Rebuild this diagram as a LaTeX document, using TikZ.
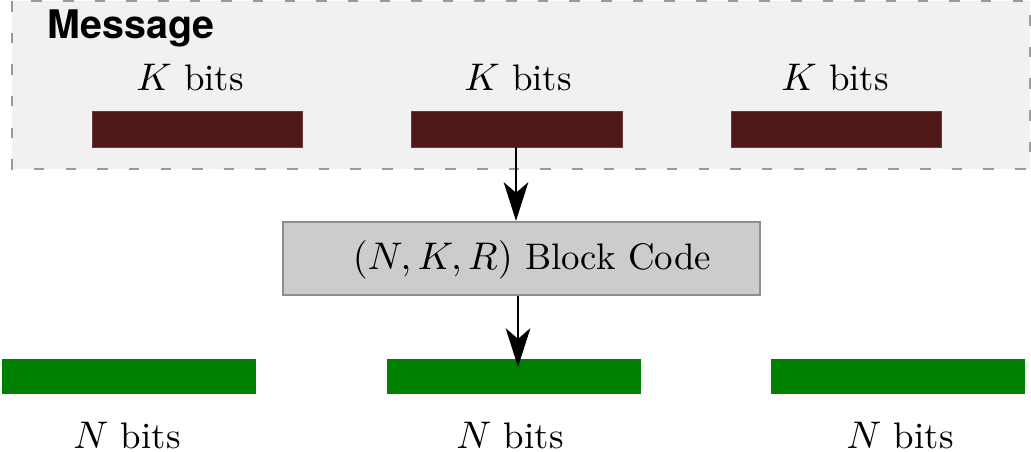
\documentclass[tikz,border=0pt]{standalone}
\usepackage{fontspec}
\newfontfamily\headfont{TeX Gyre Heros}
\usetikzlibrary{arrows.meta}
\definecolor{panelfill}{HTML}{F1F1F1}
\definecolor{panelline}{HTML}{9A9A9A}
\definecolor{msgbar}{HTML}{4F1717}
\definecolor{codebar}{HTML}{008000}
\definecolor{codefill}{HTML}{CCCCCC}
\definecolor{codeline}{HTML}{8E8E8E}
\tikzset{
  kbar/.style={draw=msgbar!85!white, line width=0.2pt, fill=msgbar},
  nbar/.style={fill=codebar},
  lbl/.style={font=\fontsize{10.5}{12}\selectfont, inner sep=0pt},
  flow/.style={line width=0.65pt, -{Stealth[length=11pt, width=7pt, inset=3pt]}},
}
\begin{document}
\begin{tikzpicture}[x=0.01cm, y=-0.01cm]
\useasboundingbox (0,0) rectangle (1031,452);
% message panel
\draw[fill=panelfill, draw=panelline, line width=0.8pt, dash pattern=on 3pt off 6pt]
  (12,1) rectangle (1030,169);
\node[anchor=west, inner sep=0pt, font=\headfont\bfseries\fontsize{11.2}{13}\selectfont] (msg) at (47,28) {Message};
% K-bit message blocks
\path[kbar] (92,111) rectangle (302,147);
\path[kbar] (411,111) rectangle (622,147);
\path[kbar] (731,111) rectangle (941,147);
\node[lbl] (kl1) at (190,78) {$K$ bits};
\node[lbl] (kl2) at (518,78) {$K$ bits};
\node[lbl] (kl3) at (835,78) {$K$ bits};
\coordinate (k2b) at (516,147);
% encoder
\node[draw=codeline, fill=codefill, line width=0.6pt, inner sep=0pt,
      minimum width=4.77cm, minimum height=0.73cm] (enc) at (521.5,258.5) {};
\node[lbl] (enctxt) at (532,260) {$(N,K,R)$ Block Code};
% N-bit codewords
\path[nbar] (2,359) rectangle (256,394);
\path[nbar] (387,359) rectangle (641,394);
\path[nbar] (771,359) rectangle (1025,394);
\coordinate (n2tip) at (518,367);
\node[lbl] (nl1) at (127,436) {$N$ bits};
\node[lbl] (nl2) at (510,436) {$N$ bits};
\node[lbl] (nl3) at (900,436) {$N$ bits};
% flow arrows
\draw[flow] (k2b) -- (k2b |- enc.north);
\draw[flow] (enc.south -| n2tip) -- (n2tip);
\end{tikzpicture}
\end{document}
